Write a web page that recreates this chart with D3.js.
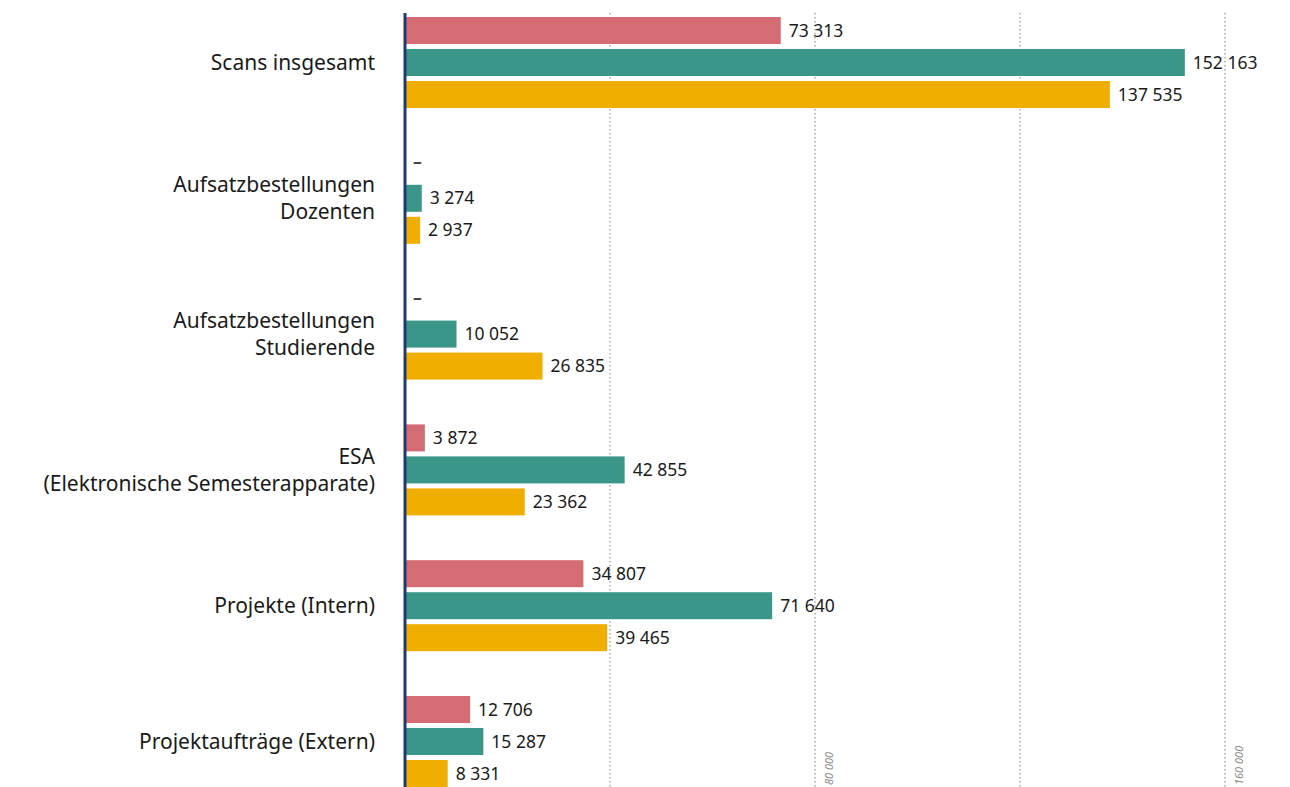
<!DOCTYPE html>
<html>
<head>
<meta charset="utf-8">
<script src="https://cdn.jsdelivr.net/npm/d3@7"></script>
<style>
  body { margin: 0; background: #fff; }
  svg { display: block; font-family: "Noto Sans", sans-serif; }
</style>
</head>
<body>
<svg id="chart" width="1290" height="787"></svg>
<script>
// Data
const categories = [
    "Scans insgesamt",
    "Aufsatzbestellungen\nDozenten",
    "Aufsatzbestellungen\nStudierende",
    "ESA\n(Elektronische Semesterapparate)",
    "Projekte (Intern)",
    "Projektaufträge (Extern)"
];
const seriesKeys = ["reihe1", "reihe2", "reihe3"];
const reihe1 = [73313, null, null, 3872, 34807, 12706];
const reihe2 = [152163, 3274, 10052, 42855, 71640, 15287];
const reihe3 = [137535, 2937, 26835, 23362, 39465, 8331];
const gridTicks = [40000, 80000, 120000, 160000];
const tickLabels = [80000, 160000];

const colors = { reihe1: "#d56b73", reihe2: "#3a9688", reihe3: "#f0ae00" };
const seriesValues = { reihe1, reihe2, reihe3 };

// Build rows
const rows = categories.map((c, i) => ({
    category: c,
    values: seriesKeys.map(k => ({ key: k, value: seriesValues[k][i] }))
}));

const fmt = d3.formatLocale({ decimal: ",", thousands: " ", grouping: [3], currency: ["", ""] }).format(",d");

const svg = d3.select("#chart");

// Scales
const x = d3.scaleLinear()
    .domain([0, 160000])
    .range([405, 1225]);

const y0 = d3.scaleBand()
    .domain(categories)
    .range([17, 787])
    .paddingInner(0.33)
    .paddingOuter(0);

const y1 = d3.scaleBand()
    .domain(seriesKeys)
    .range([0, y0.bandwidth()])
    .paddingInner(0.156);

// Grid lines
svg.append("g")
    .selectAll("line")
    .data(gridTicks)
    .enter().append("line")
    .attr("x1", d => x(d))
    .attr("x2", d => x(d))
    .attr("y1", 13)
    .attr("y2", 787)
    .attr("stroke", "#bdbdbd")
    .attr("stroke-width", 2)
    .attr("stroke-dasharray", "1.5,2.5");

// Tick labels (rotated, at bottom)
svg.append("g")
    .selectAll("text")
    .data(tickLabels)
    .enter().append("text")
    .attr("transform", d => "translate(" + (x(d) + 18) + ",785) rotate(-90)")
    .attr("text-anchor", "start")
    .attr("font-size", 11)
    .attr("font-style", "italic")
    .attr("fill", "#8a8a8a")
    .text(d => fmt(d));

// Bars
const groups = svg.append("g")
    .selectAll("g")
    .data(rows)
    .enter().append("g")
    .attr("transform", d => "translate(0," + y0(d.category) + ")");

groups.selectAll("rect")
    .data(d => d.values.filter(v => v.value != null))
    .enter().append("rect")
    .attr("x", x(0))
    .attr("y", d => y1(d.key))
    .attr("width", d => x(d.value) - x(0))
    .attr("height", y1.bandwidth())
    .attr("fill", d => colors[d.key]);

// Value labels
groups.selectAll("text")
    .data(d => d.values)
    .enter().append("text")
    .attr("x", d => x(d.value == null ? 0 : d.value) + 8)
    .attr("y", d => y1(d.key) + y1.bandwidth() / 2)
    .attr("dy", d => d.value == null ? "0.1em" : "0.35em")
    .attr("font-size", 17.5)
    .attr("font-weight", d => d.value == null ? 700 : 400)
    .attr("fill", d => d.value == null ? "#444" : "#1a1a1a")
    .text(d => d.value == null ? "–" : fmt(d.value));

// Category labels
const catLabels = svg.append("g")
    .selectAll("text")
    .data(categories)
    .enter().append("text")
    .attr("x", 375)
    .attr("y", d => y0(d) + y0.bandwidth() / 2)
    .attr("text-anchor", "end")
    .attr("font-size", 21)
    .attr("fill", "#1a1a1a");

catLabels.each(function(d) {
    const lines = d.split("\n");
    const lineH = 27;
    const start = -(lines.length - 1) * lineH / 2;
    d3.select(this).selectAll("tspan")
        .data(lines)
        .enter().append("tspan")
        .attr("x", 375)
        .attr("dy", (l, i) => i === 0 ? (start / 21 + 0.35) + "em" : lineH + "px")
        .text(l => l);
});

// Axis line
svg.append("line")
    .attr("x1", x(0))
    .attr("x2", x(0))
    .attr("y1", 13)
    .attr("y2", 787)
    .attr("stroke", "#1f3a70")
    .attr("stroke-width", 3);
</script>
</body>
</html>
